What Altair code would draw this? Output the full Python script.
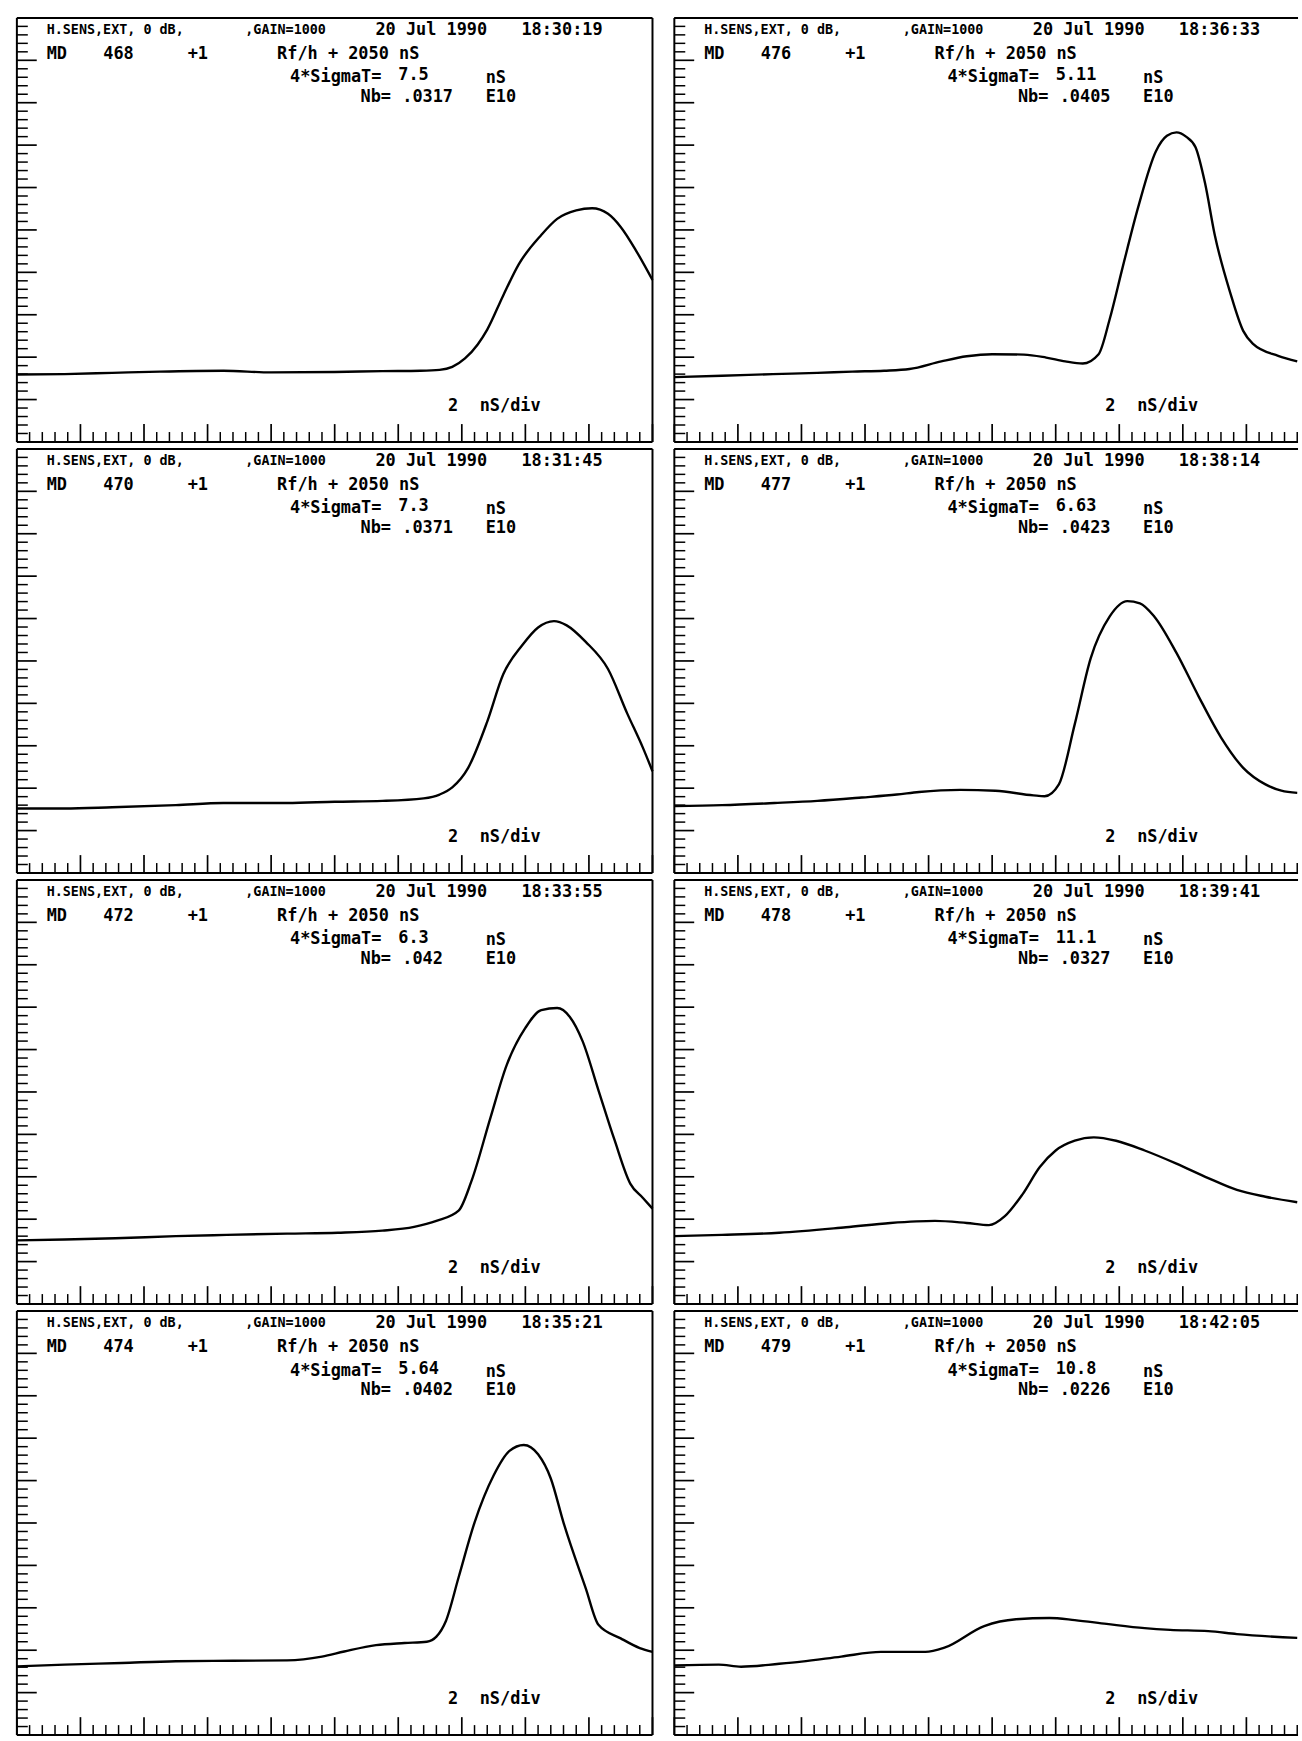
import altair as alt
import pandas as pd

# ---------------- data ----------------
run_ids = ["468", "470", "472", "474", "476", "477", "478", "479"]
times = ["18:30:19", "18:31:45", "18:33:55", "18:35:21",
         "18:36:33", "18:38:14", "18:39:41", "18:42:05"]
sigma_vals = ["7.5", "7.3", "6.3", "5.64", "5.11", "6.63", "11.1", "10.8"]
nb_vals = [".0317", ".0371", ".042", ".0402", ".0405", ".0423", ".0327", ".0226"]

# time in nS (2 nS/div, 10 div), amplitude in vertical divisions
t_468 = [0, 1.5, 3.0, 4.5, 6.5, 8.0, 10.0, 11.5, 12.7, 13.3, 13.7, 14.1, 14.5, 14.8, 15.3,
         15.8, 16.5, 17.0, 17.6, 18.1, 18.6, 19.0, 19.5, 20.0]
v_468 = [1.59, 1.60, 1.63, 1.66, 1.68, 1.64, 1.65, 1.67, 1.68, 1.70, 1.77, 1.97, 2.30, 2.65, 3.45,
         4.20, 4.88, 5.26, 5.46, 5.51, 5.38, 5.07, 4.49, 3.82]

t_470 = [0, 1.5, 3.0, 5.0, 6.5, 8.5, 10.0, 11.5, 12.8, 13.3, 13.7, 14.2, 14.8, 15.3, 15.9,
         16.4, 16.9, 17.3, 17.9, 18.6, 19.2, 19.7, 20.0]
v_470 = [1.52, 1.52, 1.55, 1.60, 1.65, 1.65, 1.68, 1.70, 1.76, 1.85, 2.02, 2.48, 3.57, 4.68, 5.37,
         5.79, 5.94, 5.84, 5.45, 4.81, 3.77, 2.95, 2.40]

t_472 = [0, 1.5, 3.1, 5.0, 6.6, 8.5, 10.1, 11.5, 12.5, 13.2, 13.9, 14.3, 14.9, 15.4, 16.0,
         16.5, 17.0, 17.4, 17.8, 18.3, 18.8, 19.3, 19.7, 20.0]
v_472 = [1.50, 1.52, 1.55, 1.60, 1.63, 1.66, 1.68, 1.73, 1.82, 1.96, 2.20, 2.89, 4.39, 5.61, 6.51,
         6.93, 6.98, 6.77, 6.20, 5.04, 3.88, 2.84, 2.50, 2.25]

t_474 = [0, 1.5, 3.3, 5.0, 6.8, 8.5, 9.6, 10.3, 11.3, 12.2, 12.9, 13.2, 13.5, 13.9, 14.4,
         15.0, 15.5, 15.95, 16.4, 16.8, 17.2, 17.9, 18.3, 19.0, 19.6, 20.0]
v_474 = [1.62, 1.66, 1.70, 1.74, 1.75, 1.76, 1.85, 1.97, 2.12, 2.17, 2.20, 2.32, 2.69, 3.72, 5.01,
         6.12, 6.70, 6.84, 6.62, 6.05, 5.01, 3.46, 2.60, 2.28, 2.05, 1.96]

t_476 = [0, 1.5, 3.1, 4.5, 5.6, 6.6, 7.4, 8.4, 9.2, 10.0, 11.0, 11.7, 12.3, 12.85, 13.35,
         13.7, 14.1, 14.6, 15.15, 15.5, 15.8, 16.1, 16.4, 16.7, 17.0, 17.5, 17.9, 18.2, 19.0, 19.6]
v_476 = [1.53, 1.56, 1.60, 1.63, 1.66, 1.68, 1.72, 1.90, 2.02, 2.07, 2.06, 1.99, 1.90, 1.85, 2.07,
         2.90, 4.10, 5.55, 6.85, 7.22, 7.30, 7.20, 6.95, 6.10, 4.90, 3.50, 2.62, 2.32, 2.03, 1.90]

t_477 = [0, 1.5, 3.15, 4.5, 5.9, 7.0, 7.7, 9.0, 10.1, 11.3, 11.65, 12.1, 12.6, 13.1, 13.7,
         14.25, 14.65, 15.1, 15.8, 16.5, 17.2, 17.9, 18.6, 19.1, 19.6]
v_477 = [1.58, 1.60, 1.65, 1.70, 1.78, 1.85, 1.91, 1.96, 1.94, 1.83, 1.81, 2.09, 3.51, 5.06, 6.05,
         6.41, 6.36, 6.05, 5.19, 4.16, 3.20, 2.48, 2.09, 1.94, 1.89]

t_478 = [0, 1.5, 3.3, 5.4, 6.8, 8.2, 9.2, 9.9, 10.4, 10.95, 11.5, 12.0, 12.6, 13.2, 13.9,
         14.8, 15.8, 16.8, 17.7, 18.6, 19.6]
v_478 = [1.60, 1.63, 1.68, 1.81, 1.91, 1.96, 1.91, 1.86, 2.07, 2.58, 3.23, 3.62, 3.85, 3.93, 3.85,
         3.62, 3.31, 2.97, 2.69, 2.53, 2.40]

t_479 = [0, 1.4, 2.1, 3.3, 4.0, 5.25, 6.5, 7.9, 8.5, 9.75, 10.75, 11.8, 12.6, 13.6, 14.8,
         15.6, 16.8, 17.7, 19.6]
v_479 = [1.64, 1.66, 1.61, 1.68, 1.73, 1.85, 1.96, 1.96, 2.06, 2.57, 2.73, 2.76, 2.71, 2.62, 2.52,
         2.48, 2.45, 2.38, 2.29]

traces = [(t_468, v_468), (t_470, v_470), (t_472, v_472), (t_474, v_474),
          (t_476, v_476), (t_477, v_477), (t_478, v_478), (t_479, v_479)]

# ---------------- layout ----------------
FONT = "DejaVu Sans Mono"
W_L, W_R, H = 640, 628, 427
X_FULL = 20.0
X_RIGHT = X_FULL * W_R / W_L
ONE = pd.DataFrame({"d": [0]})


def txt(s, px, py, size=17):
    return alt.Chart(ONE).mark_text(
        align="left", baseline="middle", font=FONT, fontSize=size,
        fontWeight="bold", color="black"
    ).encode(x=alt.value(px), y=alt.value(py), text=alt.value(s))


def hrule(y, x0, x1, sw=2):
    return alt.Chart(ONE).mark_rule(color="black", strokeWidth=sw).encode(
        x=alt.value(x0), x2=alt.value(x1), y=alt.value(y))


def vrule(x, y0, y1, sw=2):
    return alt.Chart(ONE).mark_rule(color="black", strokeWidth=sw).encode(
        x=alt.value(x), y=alt.value(y0), y2=alt.value(y1))


def panel(i, width, xmax, right_frame):
    t, v = traces[i]
    xs = alt.Scale(domain=[0, xmax], nice=False, zero=False)
    ys = alt.Scale(domain=[0, 10], nice=False, zero=False)

    xt = [k * 0.4 for k in range(51) if k * 0.4 <= xmax + 1e-9]
    xt_major = pd.DataFrame({"p": [p for k, p in enumerate(xt) if k % 5 == 0]})
    xt_minor = pd.DataFrame({"p": [p for k, p in enumerate(xt) if k % 5 != 0]})
    yt = [k * 0.2 for k in range(51)]
    yt_major = pd.DataFrame({"p": [p for k, p in enumerate(yt) if k % 5 == 0]})
    yt_minor = pd.DataFrame({"p": [p for k, p in enumerate(yt) if k % 5 != 0]})

    layers = []
    layers.append(alt.Chart(xt_major).mark_rule(color="black", strokeWidth=1.7).encode(
        x=alt.X("p:Q", scale=xs, axis=None), y=alt.value(H), y2=alt.value(H - 18)))
    layers.append(alt.Chart(xt_minor).mark_rule(color="black", strokeWidth=1.5).encode(
        x=alt.X("p:Q", scale=xs, axis=None), y=alt.value(H), y2=alt.value(H - 10)))
    layers.append(alt.Chart(yt_major).mark_rule(color="black", strokeWidth=1.7).encode(
        y=alt.Y("p:Q", scale=ys, axis=None), x=alt.value(0), x2=alt.value(20)))
    layers.append(alt.Chart(yt_minor).mark_rule(color="black", strokeWidth=1.5).encode(
        y=alt.Y("p:Q", scale=ys, axis=None), x=alt.value(0), x2=alt.value(11)))

    layers.append(alt.Chart(pd.DataFrame({"t": t, "v": v})).mark_line(
        color="black", strokeWidth=2.4, interpolate="monotone").encode(
        x=alt.X("t:Q", scale=xs, axis=None), y=alt.Y("v:Q", scale=ys, axis=None)))

    # frame
    layers.append(hrule(0, 0, width))
    layers.append(hrule(H, 0, width))
    layers.append(vrule(0, 0, H))
    if right_frame:
        layers.append(vrule(width, 0, H))

    # texts
    layers += [
        txt("H.SENS,EXT, 0 dB,", 30, 12, 13.5),
        txt(",GAIN=1000", 230, 12, 13.5),
        txt("20 Jul 1990", 361, 12),
        txt(times[i], 508, 12),
        txt("MD", 30, 36),
        txt(run_ids[i], 87, 36),
        txt("+1", 172, 36),
        txt("Rf/h + 2050 nS", 262, 36),
        txt("4*SigmaT=", 275, 60),
        txt(sigma_vals[i], 384, 58),
        txt("nS", 472, 61),
        txt("Nb=", 346, 80),
        txt(nb_vals[i], 388, 80),
        txt("E10", 472, 80),
        txt("2", 434, 391),
        txt("nS/div", 466, 391),
    ]
    return alt.layer(*layers).properties(width=width, height=H)


panels = []
for r in range(4):
    panels.append(panel(r, W_L, X_FULL, True))
    panels.append(panel(r + 4, W_R, X_RIGHT, False))

chart = alt.concat(
    *panels, columns=2, spacing={"row": 7, "column": 22}, bounds="flush"
).resolve_scale(
    x="independent", y="independent"
).properties(
    padding={"left": 12, "top": 11, "right": 0, "bottom": 0},
    background="white",
).configure_view(stroke=None)

chart.save("out.html", embed_options={"renderer": "svg", "actions": False})
